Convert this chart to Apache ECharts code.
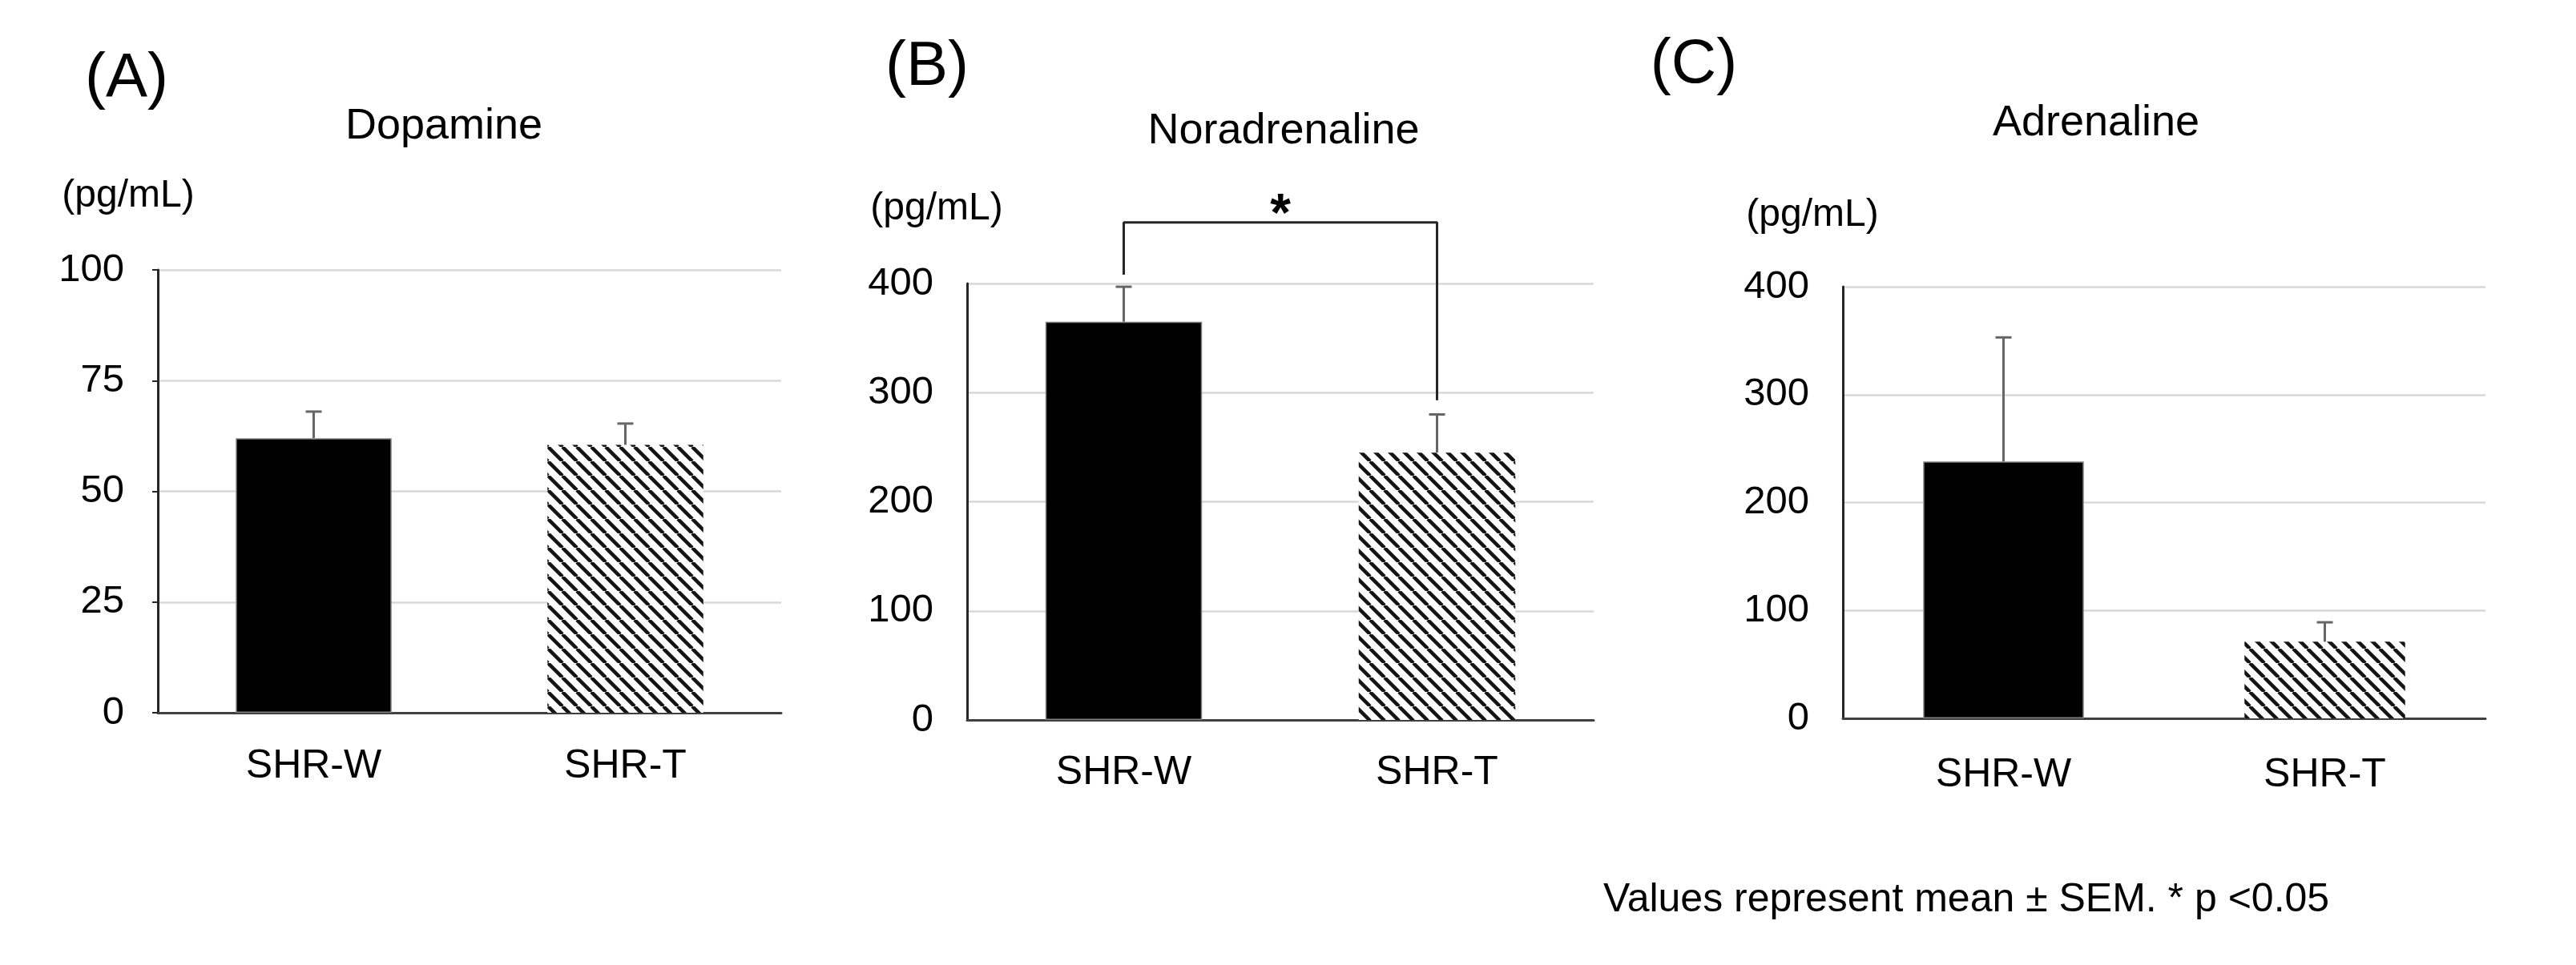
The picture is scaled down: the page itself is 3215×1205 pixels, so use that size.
<!DOCTYPE html>
<html><head><meta charset="utf-8">
<script src="https://cdn.jsdelivr.net/npm/echarts@6/dist/echarts.min.js"></script>
<style>html,body{margin:0;padding:0;background:#fff}#c{width:3215px;height:1205px}</style>
</head><body><div id="c"></div>
<script>
const categories = ['SHR-W', 'SHR-T'];
const panelLabels = ['(A)', '(B)', '(C)'];
const panelTitles = ['Dopamine', 'Noradrenaline', 'Adrenaline'];
const unitLabel = '(pg/mL)';
const dopamineMean = [62, 60.5];
const dopamineSem = [6, 4.8];
const noradrenalineMean = [365, 245];
const noradrenalineSem = [32, 35];
const adrenalineMean = [238, 71];
const adrenalineSem = [115, 18];
const yMax = [100, 400, 400];
const yInterval = [25, 100, 100];
const sigBracket = [[0, 408], [0, 456], [1, 456], [1, 293]];
const sigMark = '*';
const note = 'Values represent mean \u00b1 SEM. * p <0.05';

const FONT = '"Liberation Sans", Arial, Helvetica, sans-serif';
const means = [dopamineMean, noradrenalineMean, adrenalineMean];
const sems = [dopamineSem, noradrenalineSem, adrenalineSem];

function hatch() {
  const s = 18;
  const c = document.createElement('canvas');
  c.width = s; c.height = s;
  const g = c.getContext('2d');
  g.fillStyle = '#fff'; g.fillRect(0, 0, s, s);
  g.strokeStyle = '#141414'; g.lineWidth = 4.5;
  g.beginPath();
  for (const k of [-1, 0, 1]) { g.moveTo(k * s, 0); g.lineTo(k * s + s, s); }
  g.stroke();
  return c;
}
const hatchCanvas = hatch();

const grids = [
  {left: 197, top: 337, width: 778, height: 553},
  {left: 1207, top: 354, width: 782, height: 545},
  {left: 2300, top: 358, width: 802, height: 539}
];
const xMargins = [42, 41, 46];

const xAxis = [], yAxis = [], series = [];
for (let i = 0; i < 3; i++) {
  xAxis.push({
    type: 'category', gridIndex: i, data: categories,
    axisLine: {lineStyle: {color: '#404040', width: 3}},
    axisTick: {show: false},
    axisLabel: {fontSize: 50, color: '#000', margin: xMargins[i], fontFamily: FONT}
  });
  yAxis.push({
    type: 'value', gridIndex: i, min: 0, max: yMax[i], interval: yInterval[i],
    axisLine: {show: true, lineStyle: {color: '#262626', width: 3}},
    axisTick: {show: i === 0, length: 7, lineStyle: {color: '#262626', width: 2}},
    axisLabel: {fontSize: 49, color: '#000', margin: 42, fontFamily: FONT},
    splitLine: {lineStyle: {color: '#d9d9d9', width: 2.5}}
  });
  series.push({
    type: 'bar', xAxisIndex: i, yAxisIndex: i, barWidth: '50%',
    data: [
      {value: means[i][0], itemStyle: {color: '#000', borderColor: '#808080', borderWidth: 1.5}},
      {value: means[i][1], itemStyle: {color: {image: hatchCanvas, repeat: 'repeat'}}}
    ],
    z: 2, animation: false
  });
  series.push({
    type: 'custom', xAxisIndex: i, yAxisIndex: i, z: 3, clip: false,
    data: categories.map((c, j) => [j, means[i][j], sems[i][j]]),
    encode: {x: 0, y: 1},
    renderItem: function (params, api) {
      const x = api.value(0), m = api.value(1), e = api.value(2);
      const p0 = api.coord([x, m]);
      const p1 = api.coord([x, m + e]);
      const w = 10;
      const st = {stroke: '#666', lineWidth: 3};
      return {type: 'group', children: [
        {type: 'line', shape: {x1: p0[0], y1: p0[1], x2: p1[0], y2: p1[1]}, style: st},
        {type: 'line', shape: {x1: p1[0] - w, y1: p1[1], x2: p1[0] + w, y2: p1[1]}, style: st}
      ]};
    },
    animation: false
  });
}
series.push({
  type: 'line', xAxisIndex: 1, yAxisIndex: 1, data: sigBracket, symbol: 'none', clip: false,
  lineStyle: {color: '#262626', width: 3}, z: 4, animation: false, silent: true
});

const txt = (x, y, text, size, opts) => Object.assign({
  type: 'text', x: x, y: y,
  style: Object.assign({text: text, fontSize: size, fontFamily: FONT, fill: '#000', align: 'center', verticalAlign: 'middle'}, (opts || {}))
});

const graphic = [
  txt(158, 99, panelLabels[0], 78),
  txt(1157, 84, panelLabels[1], 78),
  txt(2114, 81, panelLabels[2], 78),
  txt(554, 158, panelTitles[0], 54),
  txt(1602, 164, panelTitles[1], 54),
  txt(2616, 154, panelTitles[2], 54),
  txt(160, 245, unitLabel, 48),
  txt(1169, 261, unitLabel, 48),
  txt(2262, 269, unitLabel, 48),
  txt(2001, 1124, note, 50, {align: 'left'})
];

const chart = echarts.init(document.getElementById('c'));
const option = {
  backgroundColor: '#fff',
  animation: false,
  grid: grids,
  xAxis: xAxis,
  yAxis: yAxis,
  series: series,
  graphic: graphic
};
chart.setOption(option);
const a = chart.convertToPixel({xAxisIndex: 1, yAxisIndex: 1}, [0, sigBracket[1][1]]);
const b = chart.convertToPixel({xAxisIndex: 1, yAxisIndex: 1}, [1, sigBracket[2][1]]);
graphic.push(txt((a[0] + b[0]) / 2, a[1] - 8, sigMark, 66, {fontWeight: 'bold'}));
chart.setOption({graphic: graphic});
</script></body></html>
